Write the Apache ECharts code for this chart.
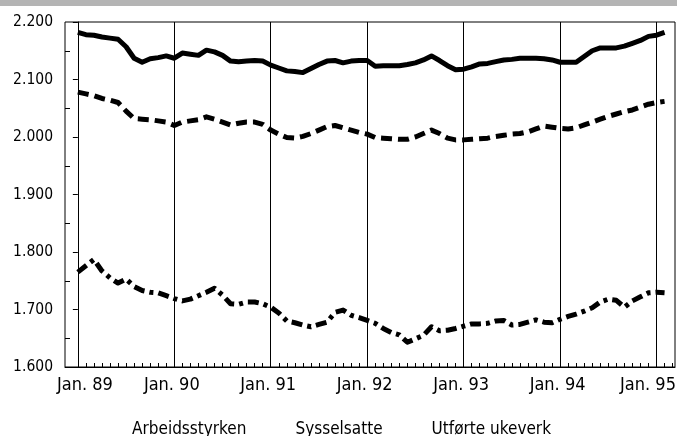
<!DOCTYPE html>
<html>
<head>
<meta charset="utf-8">
<script src="https://cdn.jsdelivr.net/npm/echarts@6/dist/echarts.min.js"></script>
<style>html,body{margin:0;padding:0;background:#fff}#c{width:677px;height:436px}</style>
</head>
<body>
<div id="c"></div>
<script>
// Monthly data, Jan 1989 - Feb 1995 (thousands of persons / weeks)
const seriesNames = ['Arbeidsstyrken', 'Sysselsatte', 'Utførte ukeverk'];
const yearLabels = ['Jan. 89', 'Jan. 90', 'Jan. 91', 'Jan. 92', 'Jan. 93', 'Jan. 94', 'Jan. 95'];
const yTicks = [1600, 1700, 1800, 1900, 2000, 2100, 2200];

const arbeidsstyrken = [
  2182,2178,2177,2174,2172,2170,2157,2137,2130,2136,2138,2141,
  2137,2146,2144,2142,2151,2148,2142,2132,2131,2132,2133,2132,
  2125,2120,2115,2114,2112,2119,2126,2132,2133,2129,2132,2133,
  2133,2123,2124,2124,2124,2126,2129,2134,2141,2133,2124,2117,
  2118,2122,2127,2128,2131,2134,2135,2137,2137,2137,2136,2134,
  2130,2130,2130,2140,2150,2155,2155,2155,2158,2163,2168,2175,
  2177,2182
];
const sysselsatte = [
  2078,2075,2072,2067,2064,2060,2045,2032,2031,2030,2028,2026,
  2020,2026,2028,2030,2035,2031,2026,2021,2024,2026,2026,2022,
  2012,2005,1999,1998,2001,2006,2012,2018,2020,2016,2012,2008,
  2005,1999,1998,1997,1996,1996,2000,2006,2012,2006,1998,1995,
  1995,1996,1997,1998,2001,2003,2005,2006,2009,2014,2019,2017,
  2015,2014,2016,2021,2026,2031,2036,2040,2044,2047,2052,2057,
  2060,2062
];
const ukeverk = [
  1765,1776,1787,1767,1755,1746,1753,1740,1733,1730,1729,1724,
  1719,1715,1718,1724,1730,1737,1725,1710,1709,1713,1713,1710,
  1704,1694,1680,1677,1673,1670,1674,1678,1695,1699,1690,1686,
  1681,1676,1667,1660,1656,1643,1649,1655,1670,1663,1664,1667,
  1671,1675,1675,1676,1680,1681,1673,1674,1678,1682,1678,1677,
  1683,1688,1692,1697,1703,1713,1718,1716,1704,1715,1722,1729,
  1730,1729
];

const monthIdx = arbeidsstyrken.map((_, i) => i);
const yearTicks = yearLabels.map((_, i) => i * 12);
const monthTicks = [];
for (let m = 1; m <= 74; m++) monthTicks.push(m);
const minorY = yTicks.slice(0, -1).map(v => v + 50);

const pair = arr => arr.map((v, i) => [monthIdx[i], v]);
const FONT = "'DejaVu Sans Condensed', 'Liberation Sans Narrow', sans-serif";

const chart = echarts.init(document.getElementById('c'), null, {renderer: 'canvas'});
chart.setOption({
  animation: false,
  backgroundColor: '#fff',
  graphic: [{
    type: 'rect', shape: {x: 0, y: 0, width: 677, height: 6},
    style: {fill: '#b4b4b4'}, silent: true
  }],
  grid: {left: 65, right: 2, top: 22, bottom: 69, show: true, borderColor: '#000', borderWidth: 1,
    outerBoundsMode: 'none', containLabel: false},
  legend: {
    data: seriesNames, left: 'center', top: 421, itemWidth: 0, itemHeight: 0, itemGap: 43,
    padding: 0,
    textStyle: {fontFamily: FONT, fontSize: 17, color: '#000'}, selectedMode: false
  },
  xAxis: {
    type: 'value', min: -1.6, max: 74.3,
    axisLine: {lineStyle: {color: '#000', width: 1}},
    axisTick: {inside: true, length: 4, customValues: monthTicks, lineStyle: {color: '#000'}},
    axisLabel: {
      customValues: yearTicks, margin: 9, color: '#000', fontFamily: FONT, fontSize: 18,
      formatter: v => {
        const i = yearTicks.indexOf(v);
        const key = i === 0 ? 'f' : (i === yearTicks.length - 1 ? 'l' : 'm');
        return '{' + key + '|' + yearLabels[i] + '}';
      },
      rich: {
        f: {fontFamily: FONT, fontSize: 18, color: '#000', padding: [0, 0, 0, 14]},
        m: {fontFamily: FONT, fontSize: 18, color: '#000', padding: [0, 5, 0, 0]},
        l: {fontFamily: FONT, fontSize: 18, color: '#000', padding: [0, 17, 0, 0]}
      }
    },
    splitLine: {show: false}
  },
  yAxis: [{
    type: 'value', min: 1600, max: 2200, interval: 100,
    axisLine: {show: true, lineStyle: {color: '#000', width: 1}},
    axisTick: {show: true, length: 5, lineStyle: {color: '#000'}},
    axisLabel: {margin: 12, color: '#000', fontFamily: FONT, fontSize: 15.5, padding: [4, 0, 0, 0],
      formatter: v => (v / 1000).toFixed(3)},
    splitLine: {show: false}
  }, {
    type: 'value', min: 1600, max: 2200, position: 'left',
    axisLine: {show: false},
    axisTick: {show: true, inside: true, length: 5, customValues: minorY, lineStyle: {color: '#000'}},
    axisLabel: {show: false},
    splitLine: {show: false}
  }],
  series: [{
    name: seriesNames[0], type: 'line', data: pair(arbeidsstyrken), showSymbol: false,
    lineStyle: {color: '#000', width: 5, type: 'solid', cap: 'butt', join: 'round'},
    itemStyle: {color: '#000'},
    markLine: {
      silent: true, symbol: 'none', label: {show: false},
      lineStyle: {color: '#000', width: 1, type: 'solid'},
      data: yearTicks.map(v => ({xAxis: v}))
    }
  }, {
    name: seriesNames[1], type: 'line', data: pair(sysselsatte), showSymbol: false,
    lineStyle: {color: '#000', width: 5, type: [11, 6], cap: 'butt', join: 'round'},
    itemStyle: {color: '#000'}
  }, {
    name: seriesNames[2], type: 'line', data: pair(ukeverk), showSymbol: false,
    lineStyle: {color: '#000', width: 5, type: [11, 5, 4, 5], cap: 'butt', join: 'round'},
    itemStyle: {color: '#000'}
  }]
});
</script>
</body>
</html>
